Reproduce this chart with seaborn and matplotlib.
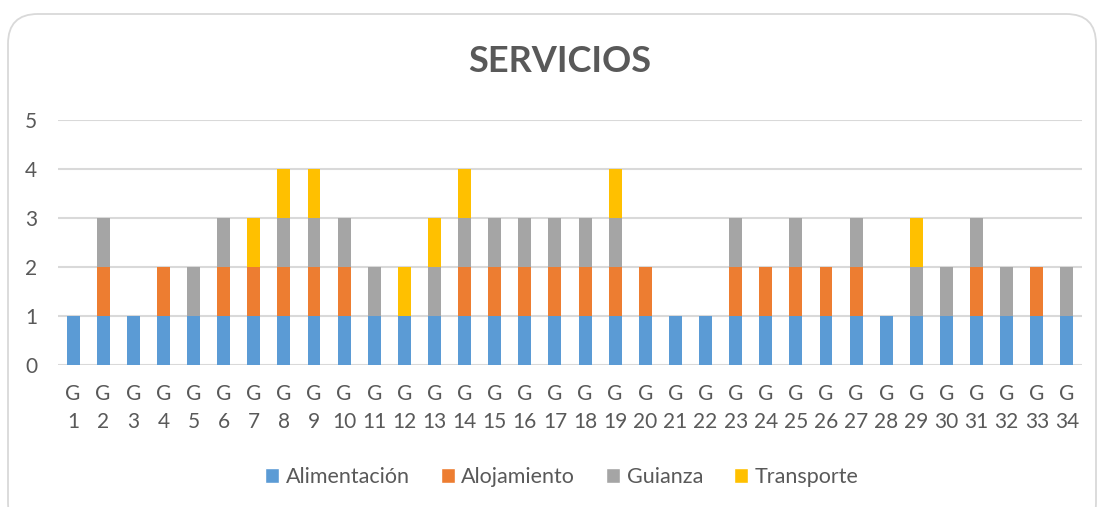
import numpy as np
import pandas as pd
import matplotlib.pyplot as plt
import seaborn as sns
from matplotlib.patches import FancyBboxPatch, Patch

sns.set_style('white')
plt.rcParams['font.family'] = ['Lato', 'DejaVu Sans']

# data
grupos = [f'G\n{i}' for i in range(1, 35)]
alimentacion = [1] * 34
alojamiento = [0, 1, 0, 1, 0, 1, 1, 1, 1, 1, 0, 0, 0, 1, 1, 1, 1,
               1, 1, 1, 0, 0, 1, 1, 1, 1, 1, 0, 0, 0, 1, 0, 1, 0]
guianza = [0, 1, 0, 0, 1, 1, 0, 1, 1, 1, 1, 0, 1, 1, 1, 1, 1,
           1, 1, 0, 0, 0, 1, 0, 1, 0, 1, 0, 1, 1, 1, 1, 0, 1]
transporte = [0, 0, 0, 0, 0, 0, 1, 1, 1, 0, 0, 1, 1, 1, 0, 0, 0,
              0, 1, 0, 0, 0, 0, 0, 0, 0, 0, 0, 1, 0, 0, 0, 0, 0]

series = ['Alimentación', 'Alojamiento', 'Guianza', 'Transporte']
colores = ['#5B9BD5', '#ED7D31', '#A5A5A5', '#FFC000']

df = pd.DataFrame({'grupo': grupos, 'Alimentación': alimentacion,
                   'Alojamiento': alojamiento, 'Guianza': guianza,
                   'Transporte': transporte})
cum = df[series].cumsum(axis=1)

fig = plt.figure(figsize=(11.03, 5.07), dpi=100)
ax = fig.add_axes([58 / 1103, 1 - 365 / 507, 1024 / 1103, 245 / 507])

# draw cumulative totals from the top layer down so they stack
for s, c in reversed(list(zip(series, colores))):
    sns.barplot(x=df['grupo'], y=cum[s], color=c, width=0.43,
                saturation=1, ax=ax, zorder=3, edgecolor='none', linewidth=0)

ax.set_ylim(0, 5)
ax.set_xlim(-0.5, 33.5)
ax.set_yticks(range(6))
ax.grid(axis='y', color='#D9D9D9', linewidth=1.5, zorder=0)
ax.set_axisbelow(True)
for sp in ax.spines.values():
    sp.set_visible(False)
ax.set_xlabel('')
ax.set_ylabel('')
ax.tick_params(axis='both', length=0, labelsize=15, labelcolor='#595959')
ax.tick_params(axis='y', pad=15)
ax.tick_params(axis='x', pad=14)
for t in ax.get_xticklabels():
    t.set_linespacing(1.45)

fig.text(560 / 1103, 1 - 62 / 507, 'SERVICIOS', ha='center', va='center',
         fontsize=26, fontweight='bold', color='#595959')

handles = [Patch(facecolor=c, label=s) for s, c in zip(series, colores)]
fig.legend(handles=handles, loc='center', bbox_to_anchor=(562 / 1103, 1 - 477 / 507),
           ncol=4, frameon=False, fontsize=15.5, handlelength=0.65,
           handleheight=0.65, handletextpad=0.3, columnspacing=1.45,
           labelcolor='#595959')

border = FancyBboxPatch((8 / 1103, -0.05), 1088 / 1103, 1 - 14 / 507 + 0.05,
                        boxstyle='round,pad=0,rounding_size=0.027',
                        transform=fig.transFigure, fill=False,
                        edgecolor='#D9D9D9', linewidth=1.3,
                        mutation_aspect=1103 / 507)
fig.patches.append(border)

fig.savefig('out.png', dpi=100)
